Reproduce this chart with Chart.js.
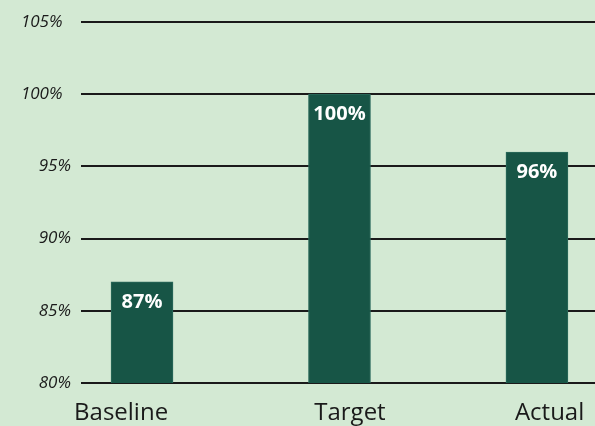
<!DOCTYPE html>
<html>
<head>
<meta charset="utf-8">
<script src="https://cdn.jsdelivr.net/npm/chart.js@4"></script>
<style>
    html, body { margin: 0; padding: 0; background: #d3e9d3; }
    #wrap { width: 595px; height: 426px; }
</style>
</head>
<body>
<div id="wrap"><canvas id="shareChart" width="595" height="426"></canvas></div>
<script>
// --- Data ---
const categories = ['Baseline', 'Target', 'Actual'];
const shares = [87, 100, 96];
const yTicks = [80, 85, 90, 95, 100, 105];
// where the category names sit on the x scale (they are not exactly under the bars)
const labelAt = [-0.106, 1.053, 2.064];

const BAR = '#175546';
const INK = '#1a1a1a';

// white value label inside the top of each bar
const barLabels = {
    id: 'barLabels',
    afterDatasetsDraw(chart) {
        const ctx = chart.ctx;
        const meta = chart.getDatasetMeta(0);
        ctx.save();
        ctx.font = 'bold 20px "Open Sans"';
        ctx.fillStyle = '#ffffff';
        ctx.textAlign = 'center';
        ctx.textBaseline = 'alphabetic';
        meta.data.forEach((bar, i) => {
            ctx.fillText(shares[i] + '%', bar.x, bar.y + 26);
        });
        ctx.restore();
    }
};

function initChart() {
    const ctx = document.getElementById('shareChart').getContext('2d');
    new Chart(ctx, {
        type: 'bar',
        data: {
            datasets: [{
                data: shares.map((v, i) => ({ x: i, y: v })),
                backgroundColor: BAR,
                borderColor: '#2c6b5c',
                borderWidth: 1,
                barThickness: 62
            }]
        },
        options: {
            responsive: false,
            animation: false,
            layout: { padding: { top: 22, left: 0, right: 0, bottom: 0 } },
            plugins: { legend: { display: false }, tooltip: { enabled: false } },
            scales: {
                x: {
                    type: 'linear',
                    offset: false,
                    min: -0.309,
                    max: 2.294,
                    grid: { display: false },
                    border: { display: false },
                    afterBuildTicks: s => { s.ticks = labelAt.map(v => ({ value: v })); },
                    afterFit: s => { s.height = 43; },
                    ticks: {
                        autoSkip: false,
                        maxRotation: 0,
                        padding: 8,
                        color: INK,
                        font: { family: '"Open Sans"', size: 24 },
                        callback: (v, i) => categories[i]
                    }
                },
                y: {
                    min: 80,
                    max: 105,
                    afterBuildTicks: s => { s.ticks = yTicks.map(v => ({ value: v })); },
                    afterFit: s => { s.width = 81; },
                    border: { display: false },
                    grid: { color: INK, lineWidth: 2, drawTicks: false },
                    ticks: {
                        padding: 10,
                        color: INK,
                        font: { family: '"Open Sans"', size: 17, style: 'italic' },
                        // three-digit labels sit a little further left in the original
                        callback: v => v >= 100 ? v + '%\u2002' : v + '%'
                    }
                }
            }
        },
        plugins: [barLabels]
    });
}

document.addEventListener('DOMContentLoaded', initChart);
</script>
</body>
</html>
